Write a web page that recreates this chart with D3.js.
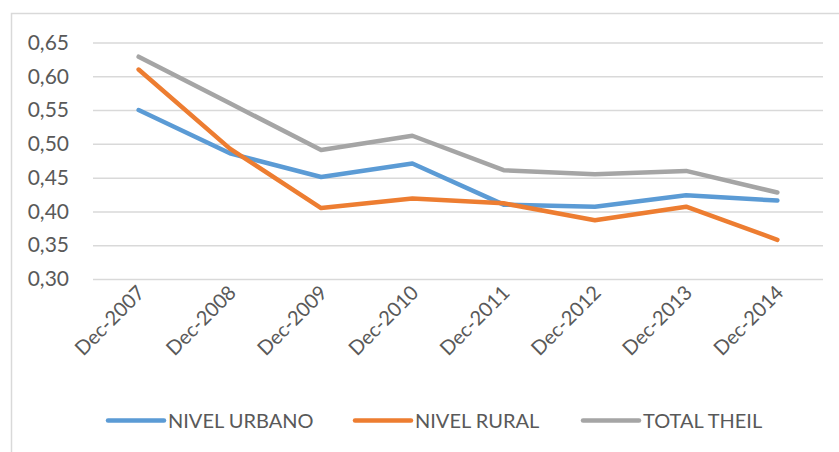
<!DOCTYPE html>
<html>
<head>
<meta charset="utf-8">
<script src="https://cdn.jsdelivr.net/npm/d3@7"></script>
<style>
  body { margin: 0; background: #fff; }
  svg { display: block; font-family: Lato, "Open Sans", sans-serif; }
</style>
</head>
<body>
<div id="chart"></div>
<script>
// Data
const categories = ['Dec-2007', 'Dec-2008', 'Dec-2009', 'Dec-2010', 'Dec-2011', 'Dec-2012', 'Dec-2013', 'Dec-2014'];
const urbano = [0.550, 0.486, 0.451, 0.471, 0.410, 0.407, 0.424, 0.416];
const rural  = [0.610, 0.493, 0.405, 0.419, 0.412, 0.387, 0.407, 0.358];
const theil  = [0.629, 0.560, 0.491, 0.512, 0.461, 0.455, 0.460, 0.428];
const yTicks = [0.30, 0.35, 0.40, 0.45, 0.50, 0.55, 0.60, 0.65];

const series = [
  { name: 'NIVEL URBANO', values: urbano, color: '#5B9BD5' },
  { name: 'NIVEL RURAL',  values: rural,  color: '#ED7D31' },
  { name: 'TOTAL THEIL',  values: theil,  color: '#A5A5A5' }
];

const W = 839, H = 452;
const plot = { left: 93, right: 823, top: 42.5, bottom: 279 };

const svg = d3.select('#chart').append('svg')
  .attr('width', W).attr('height', H);

// chart frame (right/bottom edges fall outside the picture)
svg.append('rect')
  .attr('x', 11.5).attr('y', 13.5)
  .attr('width', 840).attr('height', 450)
  .attr('fill', 'none')
  .attr('stroke', '#D9D9D9')
  .attr('stroke-width', 1.5);

const x = d3.scalePoint()
  .domain(categories)
  .range([plot.left, plot.right])
  .padding(0.5);

const y = d3.scaleLinear()
  .domain([0.30, 0.65])
  .range([plot.bottom, plot.top]);

// gridlines + y labels
const yAxis = d3.axisLeft(y)
  .tickValues(yTicks)
  .tickSize(-(plot.right - plot.left))
  .tickPadding(24)
  .tickFormat(d => d3.format('.2f')(d).replace('.', ','));

const yg = svg.append('g')
  .attr('transform', `translate(${plot.left},0)`)
  .call(yAxis);
yg.select('.domain').remove();
yg.selectAll('.tick line').attr('stroke', '#D9D9D9').attr('stroke-width', 1.5);
yg.selectAll('.tick text')
  .attr('fill', '#595959')
  .attr('font-size', '21px')
  .attr('font-family', 'Lato, "Open Sans", sans-serif');

// x labels rotated
const xAxis = d3.axisBottom(x).tickSize(0).tickPadding(0);
const xg = svg.append('g')
  .attr('transform', `translate(0,${plot.bottom})`)
  .call(xAxis);
xg.select('.domain').remove();
xg.selectAll('.tick text')
  .attr('fill', '#595959')
  .attr('font-size', '20px')
  .attr('font-family', 'Lato, "Open Sans", sans-serif')
  .attr('text-anchor', 'end')
  .attr('dy', '0.35em')
  .attr('transform', 'translate(2,10) rotate(-45)');

// lines
const line = d3.line()
  .x((d, i) => x(categories[i]))
  .y(d => y(d));

svg.append('g').selectAll('path')
  .data(series)
  .join('path')
  .attr('d', d => line(d.values))
  .attr('fill', 'none')
  .attr('stroke', d => d.color)
  .attr('stroke-width', 4.5)
  .attr('stroke-linecap', 'round')
  .attr('stroke-linejoin', 'round');

// legend
const legendPos = [108, 355, 583];
const lg = svg.append('g').attr('transform', 'translate(0,420.5)');
const item = lg.selectAll('g')
  .data(series)
  .join('g')
  .attr('transform', (d, i) => `translate(${legendPos[i]},0)`);
item.append('line')
  .attr('x1', 0).attr('x2', 56)
  .attr('stroke', d => d.color)
  .attr('stroke-width', 4.5)
  .attr('stroke-linecap', 'round');
item.append('text')
  .attr('x', 60)
  .attr('dy', '0.36em')
  .attr('fill', '#595959')
  .attr('font-size', '20px')
  .text(d => d.name);
</script>
</body>
</html>
